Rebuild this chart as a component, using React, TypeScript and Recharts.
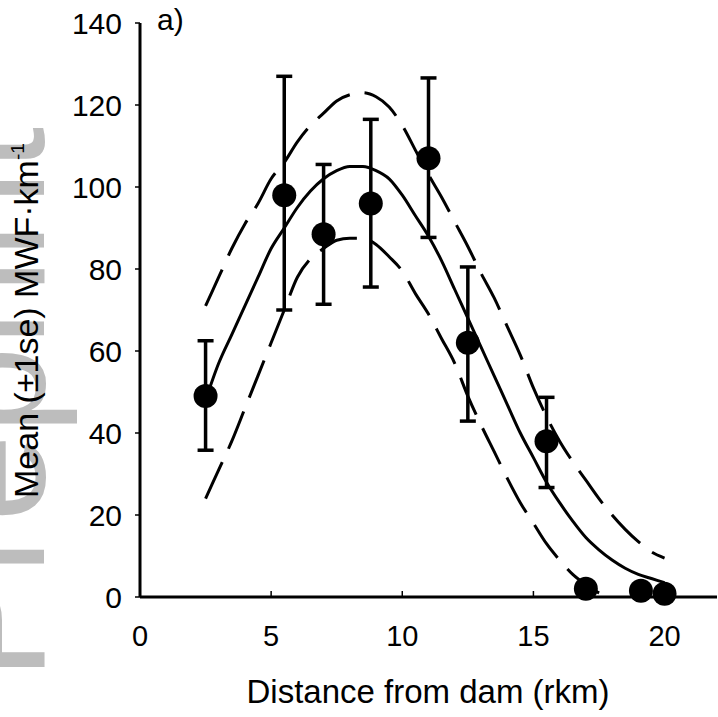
import {
  ComposedChart,
  Line,
  Scatter,
  ErrorBar,
  XAxis,
  YAxis,
} from "recharts";

// fitted curve and confidence band
const curveX = [
  2.5, 3, 3.5, 4, 4.5, 5, 5.5, 6, 6.5, 7, 7.5, 8, 8.5, 9, 9.5, 10, 10.5, 11,
  11.5, 12, 12.5, 13, 13.5, 14, 14.5, 15, 15.5, 16, 16.5, 17, 17.5, 18, 18.5,
  19, 19.5, 20,
];
const fitMean = [
  48, 57, 64, 71, 78, 85, 90, 95, 99, 102, 104, 105, 105, 104, 102, 98, 93, 88,
  82, 75, 68, 61, 54, 47, 40, 34, 28, 23, 18.5, 14.5, 11.5, 9, 7, 5.5, 4.5, 3.5,
];
const fitUpper = [
  71, 78, 85, 91, 96, 102, 106, 111, 115, 118, 121, 122.5, 123, 122, 119.5, 115,
  109, 103, 97.5, 91.5, 85.5, 79, 73, 66, 59, 51, 44, 38, 33, 28.5, 24, 20,
  16.5, 13.5, 11, 9.5,
];
const lowerX = [
  2.5, 3, 3.5, 4, 4.5, 5, 5.5, 6, 6.5, 7, 7.5, 8, 8.5, 9, 9.5, 10, 10.5, 11,
  11.5, 12, 12.5, 13, 13.5, 14, 14.5, 15, 15.5, 16, 16.5, 17, 17.5, 18,
];
const fitLower = [
  24, 31, 38, 46, 54, 62, 70, 78, 82.5, 85, 87, 87.5, 87.5, 86, 83, 79.5, 74,
  69, 63, 57, 49, 42, 35.5, 29, 23, 18, 13, 9, 5.5, 3, 1, 0,
];

// observed means with ±1 se
const siteKm = [2.5, 5.5, 7, 8.8, 11, 12.5, 15.5, 17, 19.1, 20];
const meanMwf = [49, 98, 88.5, 96, 107, 62, 38, 2, 1.5, 0.8];
const seHigh = [62.5, 127, 105.5, 116.5, 126.6, 80.5, 48.7, 2, 1.5, 0.8];
const seLow = [35.8, 70, 71.4, 75.6, 87.7, 42.9, 26.7, 2, 1.5, 0.8];

const xTicks = [0, 5, 10, 15, 20];
const yTicks = [0, 20, 40, 60, 80, 100, 120, 140];

const meanLine = curveX.map((x, i) => ({ x, y: fitMean[i] }));
const upperLine = curveX.map((x, i) => ({ x, y: fitUpper[i] }));
const lowerLine = lowerX.map((x, i) => ({ x, y: fitLower[i] }));
const points = siteKm.map((x, i) => ({
  x,
  y: meanMwf[i],
  err: [meanMwf[i] - seLow[i], seHigh[i] - meanMwf[i]],
}));

const FONT = '"Liberation Sans", Arial, sans-serif';

function XTick(props: any) {
  const { x, y, payload } = props;
  return (
    <g>
      <line x1={x} x2={x} y1={y - 28} y2={y - 34} stroke="#000" strokeWidth={1.5} />
      <text x={x} y={y} dy="0.71em" textAnchor="middle" fontSize={29} fill="#000" fontFamily={FONT}>
        {payload.value}
      </text>
    </g>
  );
}

const Dot = (props: any) => <circle cx={props.cx} cy={props.cy} r={12} fill="#000" />;

export default function App() {
  return (
    <div
      style={{
        position: "absolute",
        left: 0,
        top: 0,
        width: 718,
        height: 717,
        overflow: "hidden",
        background: "#fff",
        fontFamily: FONT,
      }}
    >
      <svg width={718} height={717} style={{ position: "absolute", left: 0, top: 0 }}>
        <text
          x={44}
          y={680}
          transform="rotate(-90, 44, 680)"
          fontSize={158}
          fill="#bdbdbd"
          fontFamily={FONT}
        >
          Preprint
        </text>
      </svg>
      <div style={{ position: "absolute", left: 0, top: 0 }}>
        <ComposedChart
          width={718}
          height={717}
          margin={{ top: 23, right: 1, left: 0, bottom: 0 }}
        >
          <XAxis
            dataKey="x"
            type="number"
            domain={[0, 22]}
            ticks={xTicks}
            height={120}
            axisLine={{ stroke: "#000", strokeWidth: 3 }}
            tickLine={false}
            tickSize={0}
            tickMargin={28}
            tick={<XTick />}
          />
          <YAxis
            type="number"
            domain={[0, 140]}
            ticks={yTicks}
            width={140}
            axisLine={{ stroke: "#000", strokeWidth: 3 }}
            tickLine={{ stroke: "#000", strokeWidth: 1.5 }}
            tickSize={5}
            tickMargin={13}
            tick={{ fontSize: 30, fill: "#000", fontFamily: FONT }}
          />
          <Line
            data={upperLine}
            dataKey="y"
            type="monotone"
            stroke="#000"
            strokeWidth={3}
            strokeDasharray="40 15"
            dot={false}
            isAnimationActive={false}
          />
          <Line
            data={lowerLine}
            dataKey="y"
            type="monotone"
            stroke="#000"
            strokeWidth={3}
            strokeDasharray="40 15"
            dot={false}
            isAnimationActive={false}
          />
          <Line
            data={meanLine}
            dataKey="y"
            type="monotone"
            stroke="#000"
            strokeWidth={3}
            dot={false}
            isAnimationActive={false}
          />
          <Scatter data={points} dataKey="y" shape={<Dot />} isAnimationActive={false}>
            <ErrorBar dataKey="err" direction="y" width={8} stroke="#000" strokeWidth={3.5} isAnimationActive={false} />
          </Scatter>
        </ComposedChart>
      </div>
      <svg width={718} height={717} style={{ position: "absolute", left: 0, top: 0, pointerEvents: "none" }}>
        <text x={428} y={703} textAnchor="middle" fontSize={33} fill="#000" fontFamily={FONT}>
          Distance from dam (rkm)
        </text>
        <text
          x={38}
          y={498}
          transform="rotate(-90, 38, 498)"
          fontSize={34}
          fill="#000"
          fontFamily={FONT}
        >
          Mean (±1se) MWF·km
          <tspan dy={-14} fontSize={19}>-1</tspan>
        </text>
        <text x={157} y={30} fontSize={30} fill="#000" fontFamily={FONT}>
          a)
        </text>
      </svg>
    </div>
  );
}
